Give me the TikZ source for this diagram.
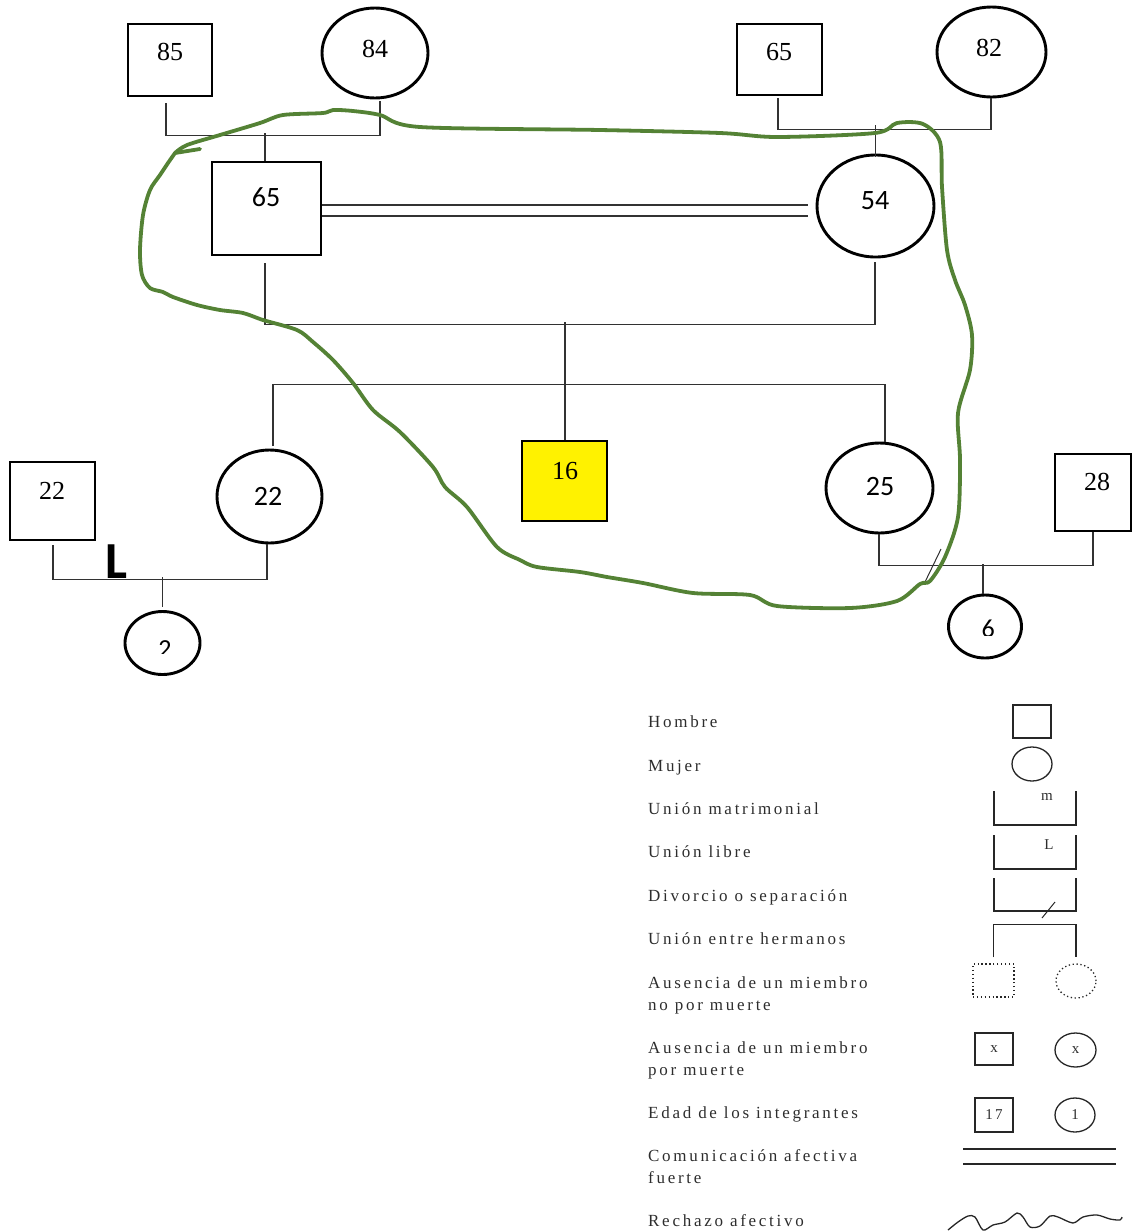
\documentclass[tikz,border=0pt]{standalone}
\usepackage{fontspec}
\setmainfont{Liberation Serif}
\newfontfamily\calfont{Carlito}
\newfontfamily\legfont[LetterSpace=16]{Liberation Serif}
\usetikzlibrary{shapes.geometric}
\definecolor{loopgreen}{RGB}{84,130,53}
\definecolor{linegray}{RGB}{50,50,50}
\definecolor{legtext}{RGB}{45,45,45}
\begin{document}
\begin{tikzpicture}[x=1pt,y=-1pt,
  man/.style={draw, rectangle, line width=2.9pt, inner sep=0pt},
  woman/.style={draw, ellipse, line width=2.9pt, inner sep=0pt},
  link/.style={draw=linegray, line width=1.4pt},
  numserif/.style={font=\fontsize{26}{26}\selectfont, inner sep=0pt},
  numsans/.style={font=\calfont\fontsize{28}{28}\selectfont, inner sep=0pt},
  leg/.style={anchor=base west, inner sep=0pt, text=legtext, font=\legfont\fontsize{17}{22}\selectfont, align=left},
  legsym/.style={draw=black!85, line width=1.3pt, inner sep=0pt, text=legtext, font=\fontsize{15}{15}\selectfont},
  legline/.style={draw=black!85, line width=1.3pt},
  legsmall/.style={text=legtext, font=\fontsize{15}{15}\selectfont, inner sep=0pt},
  dots/.style={dash pattern=on 1.3pt off 2.6pt}
]
\useasboundingbox (0,0) rectangle (1132,1232);

% ---------- grandparents
\node[man, minimum width=84, minimum height=72, label={[numserif,yshift=8pt]center:85}] (g85) at (170,60) {};
\node[woman, minimum width=106, minimum height=90, label={[numserif,yshift=4pt]center:84}] (g84) at (375,53) {};
\node[man, minimum width=85, minimum height=71, label={[numserif,yshift=7pt,xshift=-0.5pt]center:65}] (g65) at (779.5,59.5) {};
\node[woman, minimum width=109, minimum height=90, label={[numserif,yshift=4pt,xshift=-2.5pt]center:82}] (g82) at (991.5,52) {};

% ---------- parents
\node[man, minimum width=109, minimum height=93, label={[numsans,yshift=11pt,xshift=-0.5pt]center:65}] (f65) at (266.5,208.5) {};
\node[woman, minimum width=117, minimum height=102, label={[numsans,yshift=5pt,xshift=-0.5pt]center:54}] (m54) at (875.5,206) {};

% ---------- children
\node[woman, minimum width=105, minimum height=93, label={[numsans,yshift=0.5pt,xshift=-1.5pt]center:22}] (d22) at (269.5,496.5) {};
\node[man, fill=yellow, minimum width=85, minimum height=80, label={[numserif,yshift=9.5pt,xshift=0.5pt]center:16}] (ix16) at (564.5,481) {};
\node[woman, minimum width=107, minimum height=90, label={[numsans,yshift=1pt,xshift=0.5pt]center:25}] (s25) at (879.5,488) {};

% ---------- in-laws and grandchildren
\node[man, minimum width=85, minimum height=78, label={[numserif,yshift=10pt,xshift=-0.5pt]center:22}] (h22) at (52.5,501) {};
\node[man, minimum width=76, minimum height=77, label={[numserif,yshift=10.5pt,xshift=4pt]center:28}] (h28) at (1093,492.5) {};
\node[woman, minimum width=75, minimum height=63] (gc2) at (162.5,643) {};
\node[woman, minimum width=73, minimum height=63] (gc6) at (985,626.5) {};
\begin{scope}
  \clip (130,630) rectangle (195,653.5);
  \node[font=\calfont\fontsize{26}{26}\selectfont, inner sep=0pt, anchor=north] (t2) at (165,640) {2};
\end{scope}
\begin{scope}
  \clip (955,610) rectangle (1015,635.5);
  \node[font=\calfont\fontsize{26}{26}\selectfont, inner sep=0pt, anchor=north] (t6) at (988.3,620) {6};
\end{scope}

% ---------- connectors
\draw[link] ([shift={(-4,6)}]g85.south) |- ([shift={(5,36)}]g84.south) -- ([shift={(5,2)}]g84.south);
\draw[link] ([xshift=-1.5pt]f65.north) -- ++(0,-28);
\draw[link] ([shift={(-1.5,2)}]g65.south) |- ([shift={(-0.5,31)}]g82.south) -- ([shift={(-0.5,0)}]g82.south);
\draw[link] ([yshift=-3pt]m54.north) -- ++(0,-31.5);
\draw[link] ([yshift=3.5pt]f65.east) -- ([shift={(-8,-1)}]m54.west);
\draw[link] ([yshift=-7.5pt]f65.east) -- ([shift={(-8,10)}]m54.west);
\draw[link] ([shift={(-1.5,7)}]f65.south) |- ([shift={(-0.5,66)}]m54.south) -- ([shift={(-0.5,4)}]m54.south);
\draw[link] ([xshift=0.5pt]ix16.north) -- ++(0,-118);
\draw[link] ([shift={(3.5,-3)}]d22.north) |- ([shift={(5.5,-57)}]s25.north) -- ([shift={(5.5,0)}]s25.north);
\draw[link] ([shift={(0.5,4)}]h22.south) |- ([shift={(-2.5,35)}]d22.south) -- ([xshift=-2.5pt]d22.south);
\draw[link] ([yshift=3.5pt]gc2.north) -- ++(0,-30);
\node[font=\calfont\bfseries\fontsize{52}{52}\selectfont, inner sep=0pt, anchor=south] (freeL) at (116.5,578.5) {L};
\draw[link] ([xshift=-0.5pt]s25.south) |- ([yshift=-33pt]h28.south) -- (h28.south);
\draw[link] ([xshift=-2pt]gc6.north) -- ++(0,-30);
\coordinate (divA) at (925,582);
\coordinate (divB) at (941,549);
\draw[linegray, line width=1pt] (divA) -- (divB);

% ---------- green emotional loop
\draw[loopgreen, line width=3.8pt, line cap=round] (200,149) -- (175,153);
\draw[loopgreen, line width=3.8pt, line cap=round, line join=round] plot[smooth, tension=0.5] coordinates {
 (175,153) (168,163) (160,175) (150,190) (143,215) (140,250) (142,275) (150,288) (163,292)
 (173,297) (197,305) (220,310) (243,313) (263,320) (297,330) (313,342) (333,360) (353,383)
 (373,410) (400,432) (433,467) (445,487) (467,507) (497,547) (520,560) (537,567) (580,572)
 (607,577) (643,583) (693,593) (750,595) (777,606) (850,608) (897,601) (920,584) (930,581)
 (945,557) (958,517) (960,460) (958,413) (970,370) (972,335) (965,305) (955,280) (947,250)
 (942,187) (940,142) (923,124) (897,123) (875,133) (777,137) (720,133) (600,130) (420,127)
 (380,115) (353,111) (333,110) (323,113) (283,115) (260,123) (220,135) (187,145) (175,153)};

% ---------- legend
\node[leg] (lt1) at (648,727) {Hombre};
\node[leg] (lt2) at (648,771) {Mujer};
\node[leg] (lt3) at (648,814) {Unión matrimonial};
\node[leg] (lt4) at (648,857) {Unión libre};
\node[leg] (lt5) at (648,901) {Divorcio o separación};
\node[leg] (lt6) at (648,944) {Unión entre hermanos};
\node[leg] (lt7) at (648,1010) {Ausencia de un miembro\\no por muerte};
\node[leg] (lt8) at (648,1075) {Ausencia de un miembro\\por muerte};
\node[leg] (lt9) at (648,1118) {Edad de los integrantes};
\node[leg] (lt10) at (648,1183) {Comunicación afectiva\\fuerte};
\node[leg] (lt11) at (648,1226) {Rechazo afectivo};

\node[legsym, rectangle, minimum width=38, minimum height=33] (lsq) at (1032,721.5) {};
\node[legsym, ellipse, minimum width=40, minimum height=34] (lci) at (1032,764) {};
\draw[legline] (994,791) |- (1076,825) -- (1076,791);
\node[legsmall] (lmm) at (1047,797) {m};
\draw[legline] (994,835) |- (1076,869) -- (1076,835);
\node[legsmall] (lll) at (1049,845) {L};
\draw[legline] (994,878) |- (1076,911) -- (1076,878);
\coordinate (ldA) at (1042,918);
\coordinate (ldB) at (1055,902);
\draw[legline, line width=1pt] (ldA) -- (ldB);
\node[legsym, rectangle, dots, minimum width=41, minimum height=33] (lds) at (993.5,980.5) {};
\node[legsym, ellipse, dots, minimum width=40, minimum height=34] (ldc) at (1076,981) {};
\draw[legline] ([yshift=6pt]lds.north) |- ([yshift=39pt]ldc.north) -- ([yshift=6pt]ldc.north);
\node[legsym, rectangle, minimum width=38, minimum height=32] (lxs) at (994,1049) {x};
\node[legsym, ellipse, minimum width=41, minimum height=34] (lxc) at (1075.5,1050) {x};
\node[legsym, rectangle, minimum width=38, minimum height=34, font=\legfont\fontsize{15}{15}\selectfont] (l17) at (994,1115) {17};
\node[legsym, ellipse, minimum width=40, minimum height=34] (l1) at (1075,1115) {1};
\coordinate (lcA) at (963,1149);
\coordinate (lcB) at (1116,1149);
\coordinate (lcC) at (963,1164);
\coordinate (lcD) at (1116,1164);
\draw[legline] (lcA) -- (lcB);
\draw[legline] (lcC) -- (lcD);
\draw[legline, line join=round] plot[smooth, tension=0.5] coordinates {
 (948,1230) (958,1222) (968,1216) (975,1217) (983,1230) (993,1225) (1005,1222) (1017,1213)
 (1023,1217) (1030,1227) (1040,1226) (1050,1216) (1058,1217) (1073,1223) (1083,1217)
 (1097,1215) (1110,1219) (1120,1220) (1122,1217)};
\end{tikzpicture}
\end{document}
